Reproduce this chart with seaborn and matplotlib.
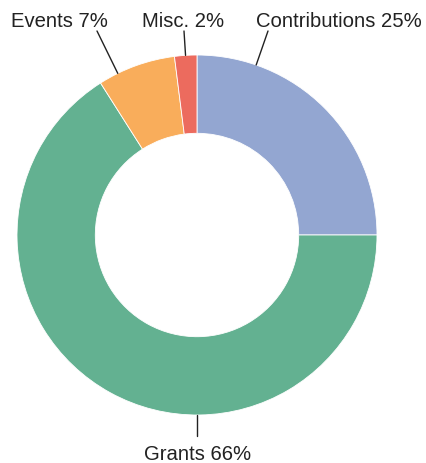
import numpy as np
import matplotlib
matplotlib.use("Agg")
import matplotlib.pyplot as plt
import seaborn as sns

# Data
categories = ["Contributions", "Grants", "Events", "Misc."]
values = [25, 66, 7, 2]
colors_hex = ["#93a6d1", "#63b191", "#f9ad5b", "#ec6b5e"]

sns.set_theme(style="white")
plt.rcParams["font.family"] = ["Liberation Sans", "DejaVu Sans"]
palette = sns.color_palette(colors_hex)

W, H = 427, 464
cx, cy, R = 197, 236, 180  # pixel layout of the donut

fig = plt.figure(figsize=(W / 100, H / 100), dpi=100)
ax = fig.add_axes([0, 0, 1, 1])

wedges, _ = ax.pie(values, colors=palette, startangle=90, counterclock=False,
                   radius=1.0, wedgeprops=dict(width=0.435, edgecolor="white", linewidth=0.6))

ax.set_xlim(-cx / R, (W - cx) / R)
ax.set_ylim(-(H - cy) / R, cy / R)
ax.set_aspect("equal")
ax.axis("off")

def px(x, y):
    return ((x - cx) / R, (cy - y) / R)

# label layout (pixel positions): text centre x, baseline y, leader start
label_layout = {
    "Contributions": ((339, 27.5), (268, 32)),
    "Grants": ((198, 460), (197, 437)),
    "Events": ((59, 27.5), (97, 32)),
    "Misc.": ((183.5, 27.5), (184, 32)),
}

for cat, val in zip(categories, values):
    (tx, ty), (lx, ly) = label_layout[cat]
    start = np.array(px(lx, ly))
    end = start / np.linalg.norm(start)
    ax.plot([start[0], end[0]], [start[1], end[1]], color="#222222", lw=1.0)
    ax.text(*px(tx, ty), f"{cat} {val}%", ha="center", va="baseline",
            fontsize=14.6, color="#222222")

fig.savefig("out.png", dpi=100)
